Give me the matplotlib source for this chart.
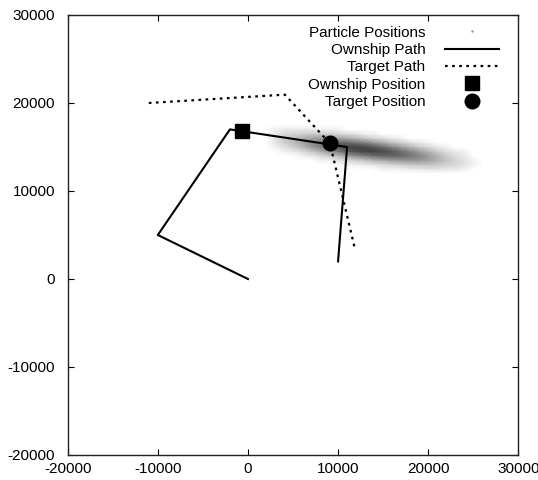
import matplotlib
matplotlib.use("Agg")
import matplotlib.pyplot as plt
from matplotlib.lines import Line2D
from matplotlib.colors import PowerNorm
import numpy as np

plt.rcParams['font.family'] = ['Liberation Sans', 'DejaVu Sans']
plt.rcParams['font.size'] = 11

# ---------------- data ----------------
ownship_x = [0, -10000, -2000, 11000, 10000]
ownship_y = [0, 5000, 17000, 15000, 2000]

target_x = [-11000, 4100, 9100, 11900]
target_y = [20000, 20950, 15400, 3300]

ownship_pos_x = [-700]
ownship_pos_y = [16800]

target_pos_x = [9100]
target_pos_y = [15400]

# particle cloud density, rows = y centres, cols = x centres
particle_x = [2000, 3000, 4000, 5000, 6000, 7000, 8000, 9000, 10000, 11000, 12000, 13000,
              14000, 15000, 16000, 17000, 18000, 19000, 20000, 21000, 22000, 23000, 24000, 25000, 26000]
particle_y = [12000, 12500, 13000, 13500, 14000, 14500, 15000, 15500, 16000, 16500, 17000, 17500]
particle_density = [
    [0, 0, 0, 0, 0, 0, 0, 0, 0, 0, 0, 0, 0, 0, 0, 0, 0, 0, 0, 0, 0, 0, 0, 0, 0],
    [0, 0, 0, 0, 0, 0, 0, 0, 0, 0, 0, 0, 0, .01, .01, .01, .02, .02, .03, .03, .02, .02, .01, 0, 0],
    [0, 0, 0, 0, 0, 0, 0, 0, 0, .01, .01, .02, .03, .04, .06, .08, .09, .10, .10, .09, .06, .05, .03, .01, 0],
    [0, 0, 0, 0, 0, 0, .01, .01, .03, .05, .08, .11, .16, .20, .24, .26, .27, .25, .22, .16, .10, .06, .03, .01, 0],
    [0, 0, 0, 0, .01, .02, .04, .08, .13, .21, .30, .37, .45, .49, .50, .47, .42, .33, .24, .15, .08, .04, .02, 0, 0],
    [0, 0, .01, .02, .04, .09, .16, .26, .38, .52, .62, .68, .69, .65, .56, .46, .34, .23, .15, .08, .04, .02, .01, 0, 0],
    [0, .01, .03, .07, .13, .23, .34, .47, .59, .68, .70, .66, .57, .46, .34, .24, .15, .09, .05, .02, .01, 0, 0, 0, 0],
    [0, .02, .07, .12, .20, .30, .39, .46, .49, .48, .43, .35, .26, .18, .11, .07, .04, .02, .01, 0, 0, 0, 0, 0, 0],
    [0, .03, .08, .12, .16, .21, .24, .24, .22, .18, .14, .10, .06, .04, .02, .01, 0, 0, 0, 0, 0, 0, 0, 0, 0],
    [0, .02, .05, .06, .07, .08, .08, .07, .05, .04, .03, .01, .01, 0, 0, 0, 0, 0, 0, 0, 0, 0, 0, 0, 0],
    [0, .01, .02, .02, .02, .02, .01, .01, .01, 0, 0, 0, 0, 0, 0, 0, 0, 0, 0, 0, 0, 0, 0, 0, 0],
    [0, 0, 0, 0, 0, 0, 0, 0, 0, 0, 0, 0, 0, 0, 0, 0, 0, 0, 0, 0, 0, 0, 0, 0, 0],
]

x_ticks = [-20000, -10000, 0, 10000, 20000, 30000]
y_ticks = [-20000, -10000, 0, 10000, 20000, 30000]

# ---------------- figure ----------------
fig = plt.figure(figsize=(5.38, 4.80), dpi=100)
ax = fig.add_axes([67.7 / 538, 1 - 455 / 480, (518.3 - 67.7) / 538, (455 - 15) / 480])

ax.pcolormesh(particle_x, particle_y, np.array(particle_density), shading='gouraud',
              cmap='binary', norm=PowerNorm(gamma=0.6, vmin=0, vmax=1.15),
              zorder=1, rasterized=True)

ax.plot(ownship_x, ownship_y, color='black', lw=1.5, zorder=3)
ax.plot(target_x, target_y, color='black', lw=1.6, linestyle=(0, (1.2, 2.0)), zorder=3)
ax.plot(ownship_pos_x, ownship_pos_y, 's', color='black', ms=10, zorder=4)
ax.plot(target_pos_x, target_pos_y, 'o', color='black', ms=10.5, zorder=4)

ax.set_xlim(-20000, 30000)
ax.set_ylim(-20000, 30000)
ax.set_xticks(x_ticks)
ax.set_yticks(y_ticks)
ax.set_xticklabels([str(v) for v in x_ticks])
ax.set_yticklabels([str(v) for v in y_ticks])
ax.tick_params(direction='in', length=4.5, width=0.8, top=True, right=True, labelsize=11)
ax.tick_params(axis='x', pad=5)
ax.tick_params(axis='y', pad=9)
for s in ax.spines.values():
    s.set_linewidth(1.0)
    s.set_color('#222222')

handles = [
    Line2D([], [], linestyle='none', marker='.', ms=1.5, color='#999999'),
    Line2D([], [], color='black', lw=1.5),
    Line2D([], [], color='black', lw=1.6, linestyle=(0, (1.2, 2.0))),
    Line2D([], [], linestyle='none', marker='s', ms=10, color='black'),
    Line2D([], [], linestyle='none', marker='o', ms=10.5, color='black'),
]
labels = ['Particle Positions', 'Ownship Path', 'Target Path', 'Ownship Position', 'Target Position']
ax.legend(handles, labels, loc='upper right', bbox_to_anchor=(0.97, 0.99),
          frameon=False, markerfirst=False, handlelength=3.5, handletextpad=1.3,
          labelspacing=0.22, borderaxespad=0, fontsize=11)

fig.savefig('out.png', dpi=100)
